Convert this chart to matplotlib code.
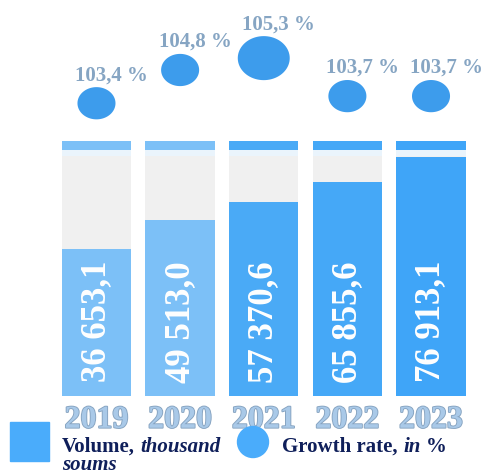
import numpy as np
import matplotlib
matplotlib.use("Agg")
import matplotlib.pyplot as plt
import matplotlib.patheffects as pe
from matplotlib.path import Path
from matplotlib.patches import Rectangle, Circle
from matplotlib.lines import Line2D
from matplotlib.text import Annotation
from matplotlib.transforms import blended_transform_factory

# ---- data -------------------------------------------------------------
years = ["2019", "2020", "2021", "2022", "2023"]
volume = [36653.1, 49513.0, 57370.6, 65855.6, 76913.1]      # thousand soums
growth = [103.4, 104.8, 105.3, 103.7, 103.7]                 # %

# ---- styling ----------------------------------------------------------
W, H = 491, 477
SERIF = "Liberation Serif"
bar_colors = ["#7cc0f7", "#7cc0f7", "#4aaaf6", "#45a8f7", "#3fa5f8"]
bubble_color = "#3d9cec"
legend_blue = "#4aacfb"
label_grey = "#86a5c3"
navy = "#0f1f5a"


def fmt_volume(v):
    s = f"{v:,.1f}"
    return s.replace(",", " ").replace(".", ",")


def fmt_growth(v):
    return f"{v:.1f}".replace(".", ",") + " %"


def px_rect(left, top, right, bottom):
    return [left / W, 1 - bottom / H, (right - left) / W, (bottom - top) / H]


fig = plt.figure(figsize=(W / 100, H / 100), dpi=100)

# thin rule along the top edge
fig.add_artist(Line2D([14 / W, 1], [0.999, 0.999], transform=fig.transFigure,
                      color="#d3e8f6", lw=1.2))

# ---- bar panel --------------------------------------------------------
# value axis runs from a floor below zero so the columns start at the base
ax = fig.add_axes(px_rect(46.3, 142, 481.2, 397))
x = np.arange(len(years))
floor, top = -28000, 84000
ax.set_xlim(-0.6, 4.6)
ax.set_ylim(floor, top)
px_per_unit = (397 - 142) / (top - floor)
strip = 9 / px_per_unit
band = 6 / px_per_unit
bw = 0.83

ax.bar(x, top - floor, bottom=floor, width=bw, color="#f0f0f0", zorder=1)
ax.bar(x, band, bottom=top - strip - band, width=bw, color="#eaf4fc", zorder=1.5)
ax.bar(x, strip, bottom=top - strip, width=bw, color=bar_colors, zorder=2)
ax.bar(x, np.array(volume) - floor, bottom=floor, width=bw,
       color=bar_colors, zorder=3)

trans = blended_transform_factory(ax.transData, ax.transAxes)
for xi, v in zip(x, volume):
    ax.text(xi, 0.295, fmt_volume(v), transform=trans, rotation=90,
            ha="center", va="center", fontsize=25, fontweight="bold",
            family=SERIF, color="white", zorder=4)

ax.set_xticks(x)
ax.set_xticklabels(years, fontsize=23, fontweight="bold", family=SERIF,
                   color="#a9c9e8")
for lbl in ax.get_xticklabels():
    lbl.set_path_effects([pe.withStroke(linewidth=1.3, foreground="#86a3c0")])
ax.tick_params(axis="x", length=0, pad=7)
ax.set_yticks([])
for sp in ax.spines.values():
    sp.set_visible(False)

# ---- growth bubbles ---------------------------------------------------
ax2 = fig.add_axes(px_rect(46.3, 0, 481.2, 142))
ax2.set_xlim(-0.6, 4.6)
ax2.set_ylim(101.81, 107.79)
ax2.axis("off")

t = np.linspace(0, 2 * np.pi, 80)
ellipse = Path(np.column_stack([1.18 * np.cos(t), np.sin(t)]), closed=True)
g = np.array(growth)
sizes = np.where(g == g.max(), 1400, 750)
ax2.scatter(x, g, s=sizes, marker=ellipse, color=bubble_color,
            edgecolors="none", zorder=3, clip_on=False)

for xi, v, s in zip(x, growth, sizes):
    half_h = np.sqrt(s) / 0.72 / 1.18 / 2
    ax2.annotate(fmt_growth(v), (xi, v), xytext=(15, half_h + 13),
                 textcoords="offset pixels", ha="center", va="center",
                 fontsize=15, fontweight="bold", family=SERIF,
                 color=label_grey, annotation_clip=False)

# ---- legend -----------------------------------------------------------
FS = 15
fig.add_artist(Rectangle((10 / W, 1 - 462 / H), 39 / W, 39 / H,
                         transform=fig.transFigure, color=legend_blue))
t1 = fig.text(62 / W, 1 - 452 / H, "Volume,", fontsize=FS,
              fontweight="bold", family=SERIF, color=navy, va="baseline")
fig.add_artist(Annotation("thousand", xy=(1, 0), xycoords=t1,
                          xytext=(4, 0), textcoords="offset points",
                          va="bottom", ha="left", fontsize=FS,
                          fontweight="bold", style="italic", family=SERIF,
                          color=navy))
fig.text(62 / W, 1 - 470 / H, "soums", fontsize=FS, fontweight="bold",
         style="italic", family=SERIF, color=navy, va="baseline")

fig.add_artist(Circle((2.53, (H - 443) / 100), 0.155,
                      transform=fig.dpi_scale_trans, color=legend_blue))
t2 = fig.text(282 / W, 1 - 452 / H, "Growth rate,", fontsize=FS,
              fontweight="bold", family=SERIF, color=navy, va="baseline")
t3 = Annotation("in", xy=(1, 0), xycoords=t2, xytext=(4, 0),
                textcoords="offset points", va="bottom", ha="left",
                fontsize=FS, fontweight="bold", style="italic",
                family=SERIF, color=navy)
fig.add_artist(t3)
fig.add_artist(Annotation("%", xy=(1, 0), xycoords=t3, xytext=(4, 0),
                          textcoords="offset points", va="bottom", ha="left",
                          fontsize=FS, fontweight="bold", family=SERIF,
                          color=navy))

fig.savefig("out.png", dpi=100)
